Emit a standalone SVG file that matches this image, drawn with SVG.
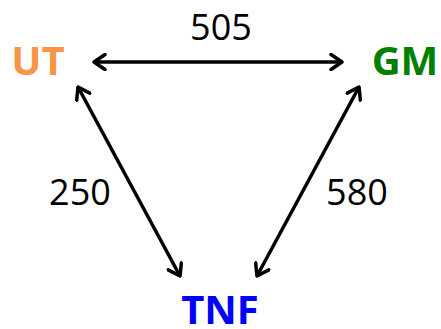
<svg xmlns="http://www.w3.org/2000/svg" width="441" height="329" viewBox="0 0 441 329">
<style>
.lbl{font-family:"Open Sans","Noto Sans",sans-serif;font-size:36px;fill:#000}
.node{font-family:"Open Sans","Noto Sans",sans-serif;font-weight:bold;font-size:40px}
.edge{stroke:#000;stroke-width:3.5;fill:none;marker-start:url(#ah);marker-end:url(#ah)}
</style>
<defs>
<marker id="ah" viewBox="-13 -9 15 18" markerWidth="15" markerHeight="18" refX="0" refY="0" orient="auto-start-reverse" markerUnits="userSpaceOnUse">
<path d="M-11,-7.5 L0,0 L-11,7.5" fill="none" stroke="#000" stroke-width="3.5" stroke-linecap="round" stroke-linejoin="round"/>
</marker>
</defs>
<g id="connectors">
<line class="edge" x1="94" y1="62" x2="342" y2="62"/>
<line class="edge" x1="78" y1="87" x2="180" y2="276"/>
<line class="edge" x1="359" y1="87" x2="257" y2="276"/>
<text class="lbl" x="221" y="40" text-anchor="middle">505</text>
<text class="lbl" x="80" y="205" text-anchor="middle">250</text>
<text class="lbl" x="357" y="205" text-anchor="middle">580</text>
</g>
<g id="UT"><text class="node" x="38" y="75" text-anchor="middle" fill="#F79646">UT</text></g>
<g id="GM"><text class="node" x="405" y="75" text-anchor="middle" fill="#008000">GM</text></g>
<g id="TNF"><text class="node" x="220" y="324" text-anchor="middle" fill="#0000FF">TNF</text></g>
</svg>
